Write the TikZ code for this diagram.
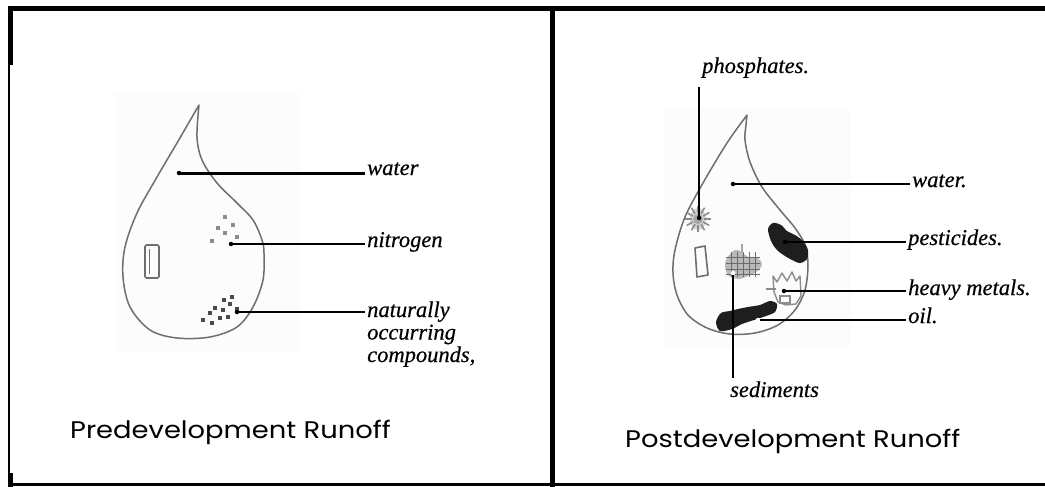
\documentclass[tikz,border=0pt]{standalone}
\usepackage{fontspec}
\setmainfont{Liberation Serif}
\newfontfamily\labelfont{Liberation Serif}[FakeBold=0.5]
\newfontfamily\titlefont{Poppins}
\definecolor{dropgray}{HTML}{6E6E6E}
\definecolor{specklegray}{HTML}{8C8C8C}
\definecolor{darkspeck}{HTML}{4A4A4A}
\definecolor{blobblack}{HTML}{1E1E1E}
\begin{document}
\begin{tikzpicture}[x=1pt,y=-1pt,
  framebar/.style={line width=#1},
  dropline/.style={draw=dropgray, line width=1.5pt, line join=round, line cap=round},
  lbl/.style={font=\labelfont\itshape\fontsize{22.5}{22.5}\selectfont, anchor=base west, inner xsep=2pt, inner ysep=1pt},
  runofftitle/.style={font=\titlefont\fontsize{24}{24}\selectfont, anchor=base west, inner sep=0pt},
  lead/.style={line width=1.5pt},
  leadthick/.style={line width=3pt},
  dotnode/.style={circle, fill=black, inner sep=0pt, minimum size=4.5pt},
  hollowdot/.style={circle, fill=white, inner sep=0pt, minimum size=4.5pt},
  speck/.style={fill=specklegray},
  darkspeckle/.style={fill=darkspeck},
  blob/.style={fill=blobblack},
]
\useasboundingbox (0,0) rectangle (1045,487);

% faint paper tone behind each drop
\fill[gray!2] (115,93) rectangle (300,353);
\fill[gray!2] (663,108) rectangle (850,347);

% ---------- outer frame and divider ----------
\draw[framebar=5pt] (8,8.5) -- (1045,8.5);
\draw[framebar=5pt] (10.5,6) -- (10.5,65);
\draw[framebar=2pt] (9,65) -- (9,473);
\draw[framebar=5pt] (10.5,473) -- (10.5,487);
\draw[framebar=2.5pt] (8,484.5) -- (1045,484.5);
\draw[framebar=5pt] (552.5,6) -- (552.5,487);

% ---------- left drop: predevelopment ----------
\draw[dropline] plot[smooth, tension=0.55] coordinates {
  (199,105) (177,143) (157,177) (137,213) (125,247) (123,277) (130,307)
  (150,330) (177,338) (210,337) (237,327) (253,307) (263,280) (264,253)
  (262,240) (253,220) (237,203) (217,183) (202,160) (197,137) (199,105)};

% small capsule shape
\draw[dropgray, line width=1.6pt, rounded corners=1.5pt] (145,245) rectangle (159,278);
\draw[dropgray, line width=1.2pt] (149.5,249) -- (149.5,274);

% nitrogen specks
\foreach \p in {(225,217),(233,225),(218,228),(225,233),(237,237),(212,241)}
  \fill[speck] \p ++(-2,-2) rectangle ++(4,4);

% naturally occurring compound specks
\foreach \p in {(232,297),(224,300),(230,304),(215,308),(223,310),(210,313),
                (203,320),(212,323),(228,317),(220,318),(237,309)}
  \fill[darkspeckle] \p ++(-1.8,-1.8) rectangle ++(3.6,3.6);

% leader dots
\node[dotnode] (lwat) at (179,173) {};
\node[dotnode] (lnit) at (231,244) {};
\node[dotnode] (lcmp) at (237,312) {};

% labels
\node[lbl] (lwatl) at (365,175) {water};
\node[lbl] (lnitl) at (365,247) {nitrogen};
\node[lbl] (lcmpa) at (365,317) {naturally};
\node[lbl] (lcmpb) at (365,339.5) {occurring};
\node[lbl] (lcmpc) at (365,362) {compounds,};

\draw[leadthick] (lwat.center) -- (lwat.center -| lwatl.west);
\draw[lead] (lnit.center) -- (lnit.center -| lnitl.west);
\draw[lead] (lcmp.center) -- (lcmp.center -| lcmpa.west);

\node[runofftitle] (pretitle) at (70,438) {\scalebox{1.14}[1]{Predevelopment Runoff}};

% ---------- right drop: postdevelopment ----------
\draw[dropline] plot[smooth, tension=0.55] coordinates {
  (747,115) (727,143) (703,183) (685,217) (675,250) (673,273) (677,295)
  (688,315) (707,328) (730,334) (755,333) (778,325) (795,310) (805,290)
  (808,265) (805,245) (795,228) (780,210) (762,187) (750,162) (745,140)
  (746,125) (747,115)};

% tilted box
\draw[dropgray, line width=1.6pt, line join=round] (695,248) -- (705,246) -- (708,275) -- (697,277) -- cycle;

% phosphates: fuzzy spiky gray cluster
\fill[gray!35] (698,219) ellipse (8 and 11);
\foreach \a in {0,30,...,330}
  \draw[specklegray, line width=1.6pt] (698,219) ++(\a:6) -- ++(\a:7);
\fill[gray!70] (698,219) circle (5);

% sediments: hatched gray patch
\fill[gray!55] plot[smooth cycle, tension=0.6] coordinates {
  (727,258) (735,250) (742,252) (748,257) (758,258) (762,265) (756,272)
  (748,276) (738,279) (728,275) (725,266)};
\foreach \xx in {731,737,743,749,755}
  \draw[gray!85!black, line width=0.8pt] (\xx,252) -- (\xx,277);
\foreach \yy in {257,263,269,274}
  \draw[gray!85!black, line width=0.8pt] (726,\yy) -- (760,\yy);
\draw[gray!70, line width=1.4pt] (742,244) -- (742,252);

% pesticides: dark smear
\fill[blob] plot[smooth cycle, tension=0.5] coordinates {
  (768,229) (773,223) (781,225) (787,231) (795,235) (803,241) (808,250)
  (807,259) (800,263) (792,260) (785,256) (777,250) (771,241)};

% heavy metals: gray crown-like outline
\draw[specklegray, line width=1.4pt, line join=round]
  (774,292) -- (773,276) -- (777,282) -- (782,273) -- (787,281) -- (792,272)
  -- (796,281) -- (800,276) -- (801,296) -- (796,304) -- (786,305) -- (778,302) -- cycle;
\draw[specklegray, line width=1.4pt] (766,289) -- (776,289);
\draw[specklegray, line width=1.2pt] (780,296) rectangle (790,303);

% oil: dark slick
\fill[blob] plot[smooth cycle, tension=0.5] coordinates {
  (716,322) (721,313) (730,311) (738,309) (748,307) (760,305) (770,301) (777,304)
  (775,312) (766,316) (754,320) (742,324) (732,329) (720,331)};

% leader dots
\node[dotnode] (rpho) at (699,218) {};
\node[dotnode] (rwat) at (733,184) {};
\node[dotnode] (rpes) at (785,242) {};
\node[dotnode] (rhev) at (784,291) {};
\node[hollowdot] (roil) at (758,320) {};
\node[hollowdot] (rsed) at (733,273) {};

% labels
\node[lbl] (rphol) at (700,73) {phosphates.};
\node[lbl] (rwatl) at (910,187) {water.};
\node[lbl] (rpesl) at (906,245) {pesticides.};
\node[lbl] (rhevl) at (906,295) {heavy metals.};
\node[lbl] (roill) at (906,323) {oil.};
\node[lbl] (rsedl) at (728,397) {sediments};

\draw[lead] (rwat.center) -- (rwat.center -| rwatl.west);
\draw[lead] (rpes.center) -- (rpes.center -| rpesl.west);
\draw[lead] (rhev.center) -- (rhev.center -| rhevl.west);
\draw[lead] (roil.east) -- (roil.center -| roill.west);
\draw[lead] (rpho.center) -- ([yshift=-8pt]rpho.center |- rphol.south);
\draw[lead] (rsed.south) -- ([yshift=2pt]rsed.center |- rsedl.north);

\node[runofftitle] (posttitle) at (625,447) {\scalebox{1.14}[1]{Postdevelopment Runoff}};
\end{tikzpicture}
\end{document}
